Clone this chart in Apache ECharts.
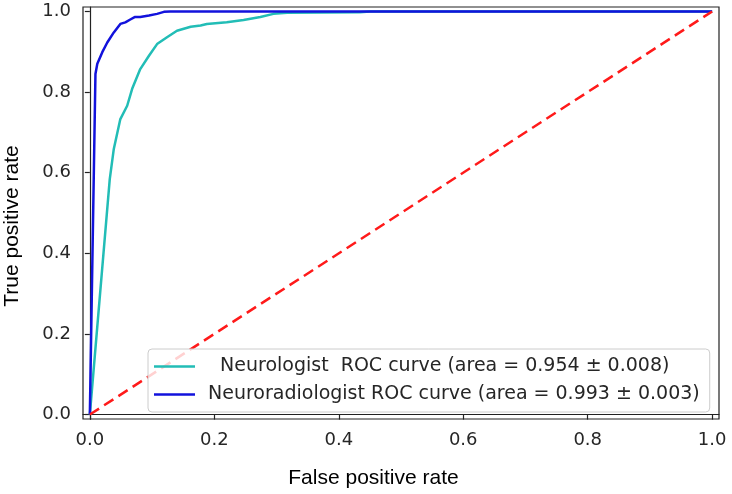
<!DOCTYPE html>
<html>
<head>
<meta charset="utf-8">
<script src="https://cdn.jsdelivr.net/npm/echarts@6/dist/echarts.min.js"></script>
<style>
  html, body { margin: 0; padding: 0; background: #fff; }
  #container { width: 732px; height: 494px; }
</style>
</head>
<body>
<div id="container"></div>
<script>
var dom = document.getElementById("container");
var myChart = echarts.init(dom, null, { renderer: "canvas" });

// ROC points
const neuroFpr = [0, 0.032, 0.0385, 0.049, 0.060, 0.068, 0.081, 0.095, 0.108, 0.124, 0.140, 0.162, 0.178, 0.188, 0.220, 0.247, 0.274, 0.295, 0.317, 0.434, 0.45, 1.0];
const neuroTpr = [0, 0.584, 0.659, 0.733, 0.766, 0.808, 0.857, 0.890, 0.919, 0.936, 0.952, 0.962, 0.965, 0.969, 0.973, 0.979, 0.986, 0.994, 0.997, 0.998, 1.0, 1.0];
const radioFpr = [0, 0.009, 0.012, 0.020, 0.028, 0.0385, 0.049, 0.057, 0.065, 0.072, 0.081, 0.095, 0.108, 0.119, 0.129, 1.0];
const radioTpr = [0, 0.845, 0.870, 0.899, 0.923, 0.948, 0.969, 0.973, 0.980, 0.986, 0.986, 0.990, 0.994, 0.999, 1.0, 1.0];
const chanceFpr = [0, 1];
const chanceTpr = [0, 1];
const tickValues = [0, 0.2, 0.4, 0.6, 0.8, 1.0];
const seriesNames = [
  "  Neurologist  ROC curve (area = 0.954 \u00b1 0.008)",
  "Neuroradiologist ROC curve (area = 0.993 \u00b1 0.003)",
];

function zip(xs, ys) {
  return xs.map(function (x, i) {
    return [x, ys[i]];
  });
}

const tickFont = "DejaVu Sans";
const titleFont = "'Liberation Sans', Arial, sans-serif";

function axisCommon() {
  return {
    type: "value",
    min: -0.011,
    max: 1.011,
    nameLocation: "middle",
    axisLine: { show: true, lineStyle: { color: "#222", width: 1.2 } },
    axisTick: {
      show: true,
      inside: false,
      length: 5,
      customValues: tickValues,
      lineStyle: { color: "#222", width: 1.2 },
    },
    axisLabel: {
      customValues: tickValues,
      fontFamily: tickFont,
      fontSize: 18,
      color: "#262626",
      formatter: function (v) {
        return v.toFixed(1);
      },
    },
    splitLine: { show: false },
  };
}

var xAxis = axisCommon();
xAxis.name = "False positive rate";
xAxis.nameGap = 49;
xAxis.nameTextStyle = { fontFamily: titleFont, fontSize: 21, color: "#000", padding: [0, 55, 0, 0] };
xAxis.axisLabel.margin = 12;

var yAxis = axisCommon();
yAxis.name = "True positive rate";
yAxis.nameGap = 60;
yAxis.nameTextStyle = { fontFamily: titleFont, fontSize: 21, color: "#000", padding: [0, 26, 0, 0] };
yAxis.axisLabel.margin = 12;

var option = {
  animation: false,
  grid: {
    left: 83,
    right: 13,
    top: 7,
    bottom: 75,
    containLabel: false,
    outerBoundsMode: "none",
    show: true,
    borderColor: "#222",
    borderWidth: 1.2,
    backgroundColor: "transparent",
  },
  xAxis: xAxis,
  yAxis: yAxis,
  legend: {
    data: seriesNames,
    orient: "vertical",
    left: 148,
    top: 349,
    icon: "rect",
    itemWidth: 41,
    itemHeight: 2.5,
    itemGap: 9,
    padding: [8, 10, 8, 6],
    backgroundColor: "rgba(255,255,255,0.8)",
    borderColor: "#cccccc",
    borderWidth: 1,
    borderRadius: 4,
    textStyle: { fontFamily: tickFont, fontSize: 19, color: "#262626", padding: [0, 0, 0, 8] },
    z: 10,
  },
  series: [
    {
      name: seriesNames[0],
      type: "line",
      data: zip(neuroFpr, neuroTpr),
      showSymbol: false,
      symbol: "none",
      lineStyle: { color: "#22bdb6", width: 2.5 },
      itemStyle: { color: "#22bdb6" },
    },
    {
      name: seriesNames[1],
      type: "line",
      data: zip(radioFpr, radioTpr),
      showSymbol: false,
      symbol: "none",
      lineStyle: { color: "#1212dc", width: 2.5 },
      itemStyle: { color: "#1212dc" },
    },
    {
      name: "chance",
      type: "line",
      data: zip(chanceFpr, chanceTpr),
      showSymbol: false,
      symbol: "none",
      lineStyle: { color: "#ff1a1a", width: 2.5, type: [11, 6] },
      z: 3,
    },
  ],
};

myChart.setOption(option);
window.addEventListener("resize", myChart.resize);
</script>
</body>
</html>
